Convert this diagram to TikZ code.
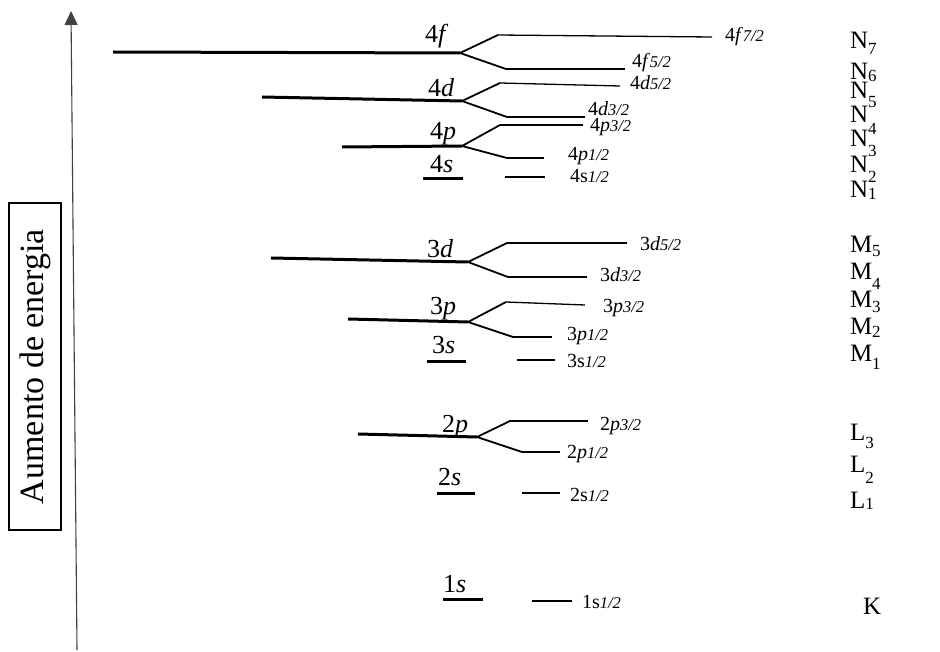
\documentclass[tikz,border=0pt]{standalone}
\usepackage{fontspec}
\setmainfont{Liberation Serif}
\usetikzlibrary{arrows.meta}
\newcommand\lvmain[2]{\fontsize{26}{26}\selectfont #1\textit{#2}}
\newcommand\lvsubl[3]{\fontsize{20}{20}\selectfont #1#2{\fontsize{16.5}{16.5}\selectfont\itshape #3}}
\newcommand\shlab[3]{\fontsize{25}{25}\selectfont #1\raisebox{-#2pt}{\fontsize{17}{17}\selectfont #3}}
\begin{document}
\begin{tikzpicture}[x=1pt,y={(0pt,-1pt)},
  thickl/.style={line width=3pt},
  branch/.style={line width=1.8pt,line join=miter},
  thinl/.style={line width=1.3pt},
  lbl/.style={anchor=base west,inner sep=0pt,outer sep=0pt},
  axisarrow/.style={line width=1.1pt,draw=black!75,-{Triangle[length=14pt,width=13pt]}}]
\useasboundingbox (0,0) rectangle (940,652);
\fill[white] (0,0) rectangle (940,652);

% energy axis
\coordinate (axb) at (77,650);
\coordinate (axt) at (71,11);
\draw[axisarrow] (axb) -- (axt);
\node[draw,line width=1.2pt,minimum width=52pt,minimum height=327pt,inner sep=0pt] (box) at (35,366.5) {};
\node[rotate=90,font=\fontsize{34}{34}\selectfont,inner sep=0pt] (boxt) at (box.center) {Aumento de energia};

% ---- 4f
\coordinate (f0) at (113,52); \coordinate (fs) at (460,53);
\coordinate (fu1) at (498,35); \coordinate (fu2) at (712,37);
\coordinate (fl1) at (506,69); \coordinate (fl2) at (625,69);
\draw[thickl] (f0) -- (fs);
\draw[branch] (fu1) -- (fs) -- (fl1);
\draw[thinl] (fu1) -- (fu2); \draw[thinl] (fl1) -- (fl2);
\node[lbl] (lf) at (425,43) {\lvmain{4}{f}};
\node[lbl] (lf72) at (725,42) {\lvsubl{4}{\textit{f}}{7/2}};
\node[lbl] (lf52) at (632,68) {\lvsubl{4}{\textit{f}}{5/2}};

% ---- 4d
\coordinate (d0) at (262,97); \coordinate (ds) at (462,101);
\coordinate (du1) at (500,83); \coordinate (du2) at (620,86);
\coordinate (dl1) at (507,117); \coordinate (dl2) at (585,117);
\draw[thickl] (d0) -- (ds);
\draw[branch] (du1) -- (ds) -- (dl1);
\draw[thinl] (du1) -- (du2); \draw[thinl] (dl1) -- (dl2);
\node[lbl] (ld) at (428,97) {\lvmain{4}{d}};
\node[lbl] (ld52) at (630,90) {\lvsubl{4}{\textit{d}}{5/2}};
\node[lbl] (ld32) at (588,116) {\lvsubl{4}{\textit{d}}{3/2}};

% ---- 4p
\coordinate (p0) at (342,147); \coordinate (ps) at (462,146);
\coordinate (pu1) at (500,125); \coordinate (pu2) at (583,125);
\coordinate (pl1) at (507,158); \coordinate (pl2) at (544,158);
\draw[thickl] (p0) -- (ps);
\draw[branch] (pu1) -- (ps) -- (pl1);
\draw[thinl] (pu1) -- (pu2); \draw[thinl] (pl1) -- (pl2);
\node[lbl] (lp) at (430,140) {\lvmain{4}{p}};
\node[lbl] (lp32) at (590,132) {\lvsubl{4}{\textit{p}}{3/2}};
\node[lbl] (lp12) at (568,161) {\lvsubl{4}{\textit{p}}{1/2}};

% ---- 4s
\coordinate (s0) at (423,179); \coordinate (s1) at (463,179);
\coordinate (st0) at (505,177); \coordinate (st1) at (545,177);
\draw[thickl] (s0) -- (s1);
\draw[thinl] (st0) -- (st1);
\node[lbl] (ls) at (430,173) {\lvmain{4}{s}};
\node[lbl] (ls12) at (570,183) {\lvsubl{4}{s}{1/2}};

% ---- 3d
\coordinate (md0) at (271,258); \coordinate (mds) at (468,262);
\coordinate (mdu1) at (507,243); \coordinate (mdu2) at (627,243);
\coordinate (mdl1) at (508,277); \coordinate (mdl2) at (587,277);
\draw[thickl] (md0) -- (mds);
\draw[branch] (mdu1) -- (mds) -- (mdl1);
\draw[thinl] (mdu1) -- (mdu2); \draw[thinl] (mdl1) -- (mdl2);
\node[lbl] (lmd) at (427,258) {\lvmain{3}{d}};
\node[lbl] (lmd52) at (640,251) {\lvsubl{3}{\textit{d}}{5/2}};
\node[lbl] (lmd32) at (600,282) {\lvsubl{3}{\textit{d}}{3/2}};

% ---- 3p
\coordinate (mp0) at (348,319); \coordinate (mps) at (468,322);
\coordinate (mpu1) at (506,302); \coordinate (mpu2) at (585,305);
\coordinate (mpl1) at (513,337); \coordinate (mpl2) at (552,337);
\draw[thickl] (mp0) -- (mps);
\draw[branch] (mpu1) -- (mps) -- (mpl1);
\draw[thinl] (mpu1) -- (mpu2); \draw[thinl] (mpl1) -- (mpl2);
\node[lbl] (lmp) at (430,315) {\lvmain{3}{p}};
\node[lbl] (lmp32) at (603,313) {\lvsubl{3}{\textit{p}}{3/2}};
\node[lbl] (lmp12) at (567,341) {\lvsubl{3}{\textit{p}}{1/2}};

% ---- 3s
\coordinate (ms0) at (427,362); \coordinate (ms1) at (466,362);
\coordinate (mst0) at (517,360); \coordinate (mst1) at (555,360);
\draw[thickl] (ms0) -- (ms1);
\draw[thinl] (mst0) -- (mst1);
\node[lbl] (lms) at (432,353) {\lvmain{3}{s}};
\node[lbl] (lms12) at (567,367) {\lvsubl{3}{s}{1/2}};

% ---- 2p
\coordinate (lp0) at (358,434); \coordinate (lps) at (477,437);
\coordinate (lpu1) at (510,421); \coordinate (lpu2) at (588,421);
\coordinate (lpl1) at (522,452); \coordinate (lpl2) at (560,452);
\draw[thickl] (lp0) -- (lps);
\draw[branch] (lpu1) -- (lps) -- (lpl1);
\draw[thinl] (lpu1) -- (lpu2); \draw[thinl] (lpl1) -- (lpl2);
\node[lbl] (llp) at (442,432) {\lvmain{2}{p}};
\node[lbl] (llp32) at (600,430) {\lvsubl{2}{\textit{p}}{3/2}};
\node[lbl] (llp12) at (567,458) {\lvsubl{2}{\textit{p}}{1/2}};

% ---- 2s
\coordinate (ls0) at (437,493); \coordinate (ls1) at (475,493);
\coordinate (lst0) at (522,493); \coordinate (lst1) at (560,493);
\draw[thickl] (ls0) -- (ls1);
\draw[thinl] (lst0) -- (lst1);
\node[lbl] (lls) at (438,485) {\lvmain{2}{s}};
\node[lbl] (lls12) at (570,501) {\lvsubl{2}{s}{1/2}};

% ---- 1s
\coordinate (ks0) at (443,599); \coordinate (ks1) at (483,599);
\coordinate (kst0) at (532,601); \coordinate (kst1) at (572,601);
\draw[thickl] (ks0) -- (ks1);
\draw[thinl] (kst0) -- (kst1);
\node[lbl] (lks) at (443,592) {\lvmain{1}{s}};
\node[lbl] (lks12) at (582,608) {\lvsubl{1}{s}{1/2}};

% ---- shell labels
\node[lbl] (N7) at (850,49) {\shlab{N}{6}{7}};
\node[lbl] (N6) at (850,80) {\shlab{N}{2}{6}};
\node[lbl] (N5) at (850,99) {\shlab{N}{9}{5}};
\node[lbl] (N4) at (850,123) {\shlab{N}{12}{4}};
\node[lbl] (N3) at (850,147) {\shlab{N}{10}{3}};
\node[lbl] (N2) at (850,173) {\shlab{N}{10}{2}};
\node[lbl] (N1) at (850,198) {\shlab{N}{2}{1}};
\node[lbl] (M5) at (850,253) {\shlab{M}{4}{5}};
\node[lbl] (M4) at (850,280) {\shlab{M}{10}{4}};
\node[lbl] (M3) at (850,308) {\shlab{M}{5}{3}};
\node[lbl] (M2) at (850,335) {\shlab{M}{2}{2}};
\node[lbl] (M1) at (850,362) {\shlab{M}{8}{1}};
\node[lbl] (L3) at (850,440) {\shlab{L}{8}{3}};
\node[lbl] (L2) at (850,472) {\shlab{L}{11}{2}};
\node[lbl] (L1) at (850,508) {\shlab{L}{1}{1}};
\node[lbl] (K) at (863,614) {\fontsize{25}{25}\selectfont K};
\end{tikzpicture}
\end{document}
